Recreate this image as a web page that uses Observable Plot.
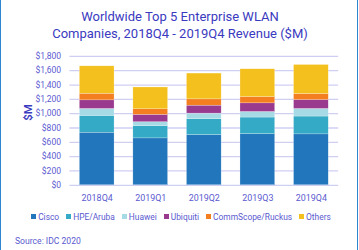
<!DOCTYPE html>
<html><head><meta charset="utf-8">
<script src="https://cdn.jsdelivr.net/npm/d3@7"></script>
<script src="https://cdn.jsdelivr.net/npm/@observablehq/plot@0.6"></script>
<style>
html,body{margin:0;padding:0;background:#fff;}
#frame{position:relative;width:356px;height:250px;border-left:1.5px solid #2e86d0;border-right:1.5px solid #2e86d0;box-sizing:content-box;overflow:hidden;font-family:Roboto,sans-serif;}
#title{position:absolute;left:1px;top:8px;width:356px;text-align:center;font-size:13px;line-height:17px;color:#3a3ac0;}
#chart{position:absolute;left:-1px;top:42px;}
#legend{position:absolute;left:1px;top:212px;width:358px;display:flex;justify-content:center;gap:7px;font-size:8.4px;color:#5a5ad0;}
#legend span.sw{display:inline-block;width:5px;height:5px;margin-right:2px;vertical-align:middle;position:relative;top:-1px;}
#source{position:absolute;left:14px;top:236px;font-size:8.6px;color:#5a5ad0;}
</style></head>
<body><div id="frame">
<div id="title">Worldwide Top 5 Enterprise WLAN<br>Companies, 2018Q4 - 2019Q4 Revenue ($M)</div>
<div id="chart"></div>
<div id="legend"></div>
<div id="source">Source: IDC 2020</div>
</div>
<script>
const quarters = ["2018Q4","2019Q1","2019Q2","2019Q3","2019Q4"];
const vendors = ["Cisco","HPE/Aruba","Huawei","Ubiquiti","CommScope/Ruckus","Others"];
const colors = ["#2276bb","#34aac6","#a6dbe6","#9a3a8e","#f47f20","#f4c01e"];
const cisco     = [734, 655, 701, 715, 711];
const hpeAruba  = [235, 171, 222, 231, 249];
const huawei    = [97, 55, 78, 78, 106];
const ubiquiti  = [120, 102, 111, 120, 124];
const commscope = [92, 78, 88, 88, 84];
const others    = [383, 305, 360, 388, 406];
const yTicks = [0,200,400,600,800,1000,1200,1400,1600,1800];

const series = [cisco, hpeAruba, huawei, ubiquiti, commscope, others];
const data = [];
vendors.forEach((v, i) => quarters.forEach((q, j) => data.push({quarter: q, vendor: v, value: series[i][j]})));

const fmt = d => "$" + d3.format(",")(d);
const chart = Plot.plot({
  width: 360, height: 168,
  marginTop: 14, marginBottom: 24, marginLeft: 70, marginRight: 19,
  style: {fontFamily: "Roboto, sans-serif", fontSize: "8.6px", color: "#5a5ad0", background: "transparent"},
  x: {domain: quarters, paddingInner: 0.35, paddingOuter: 0.175, label: null},
  y: {domain: [0, 1800], label: null},
  color: {domain: vendors, range: colors},
  marks: [
    Plot.gridY(yTicks, {stroke: "#cfcff4", strokeOpacity: 1, strokeWidth: 1.3}),
    Plot.barY(data, {x: "quarter", y: "value", fill: "vendor", order: vendors, stroke: "#ffffff", strokeWidth: 0.4, strokeOpacity: 0.6}),
    Plot.axisY(yTicks, {tickSize: 0, tickPadding: 9, tickFormat: fmt, fill: "#5a5ad0", label: null}),
    Plot.axisX({tickSize: 0, tickPadding: 9, fill: "#5a5ad0", label: null, fontSize: 9}),
    Plot.text(["$M"], {frameAnchor: "left", dx: -42, rotate: -90, fill: "#3a3ac0", fontSize: 11.5, fontWeight: 600})
  ]
});
document.getElementById("chart").appendChild(chart);

const lg = document.getElementById("legend");
vendors.forEach((v, i) => {
  const d = document.createElement("div");
  d.innerHTML = `<span class="sw" style="background:${colors[i]}"></span>${v}`;
  lg.appendChild(d);
});
</script>
</body></html>
